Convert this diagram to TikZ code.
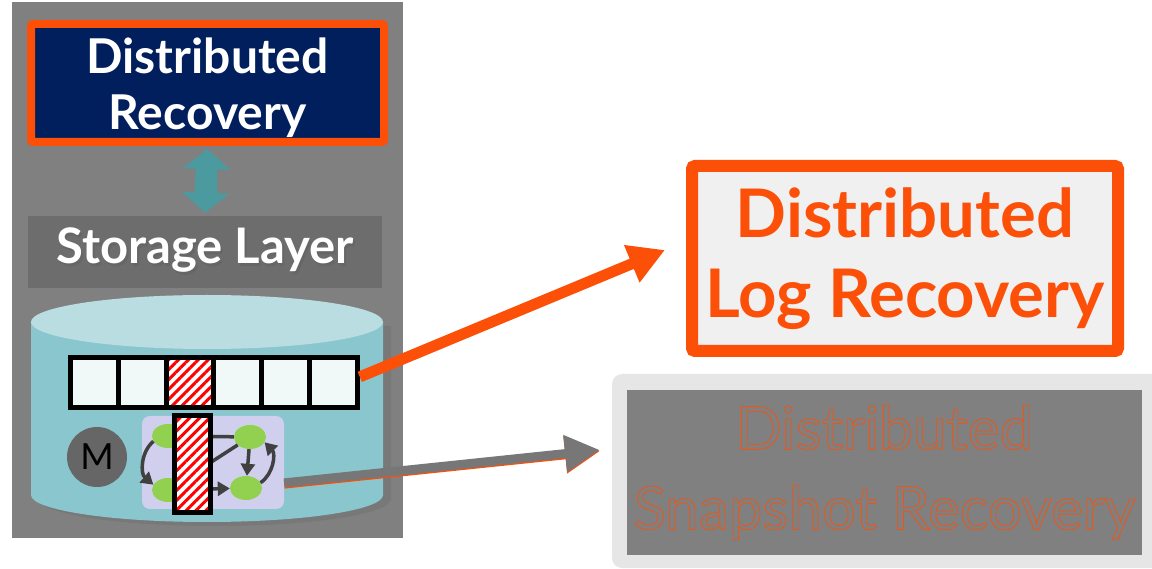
\documentclass[tikz,border=0pt]{standalone}
\usepackage{fontspec}
\setmainfont{Lato}
\usetikzlibrary{arrows.meta,patterns.meta,shapes.geometric}

\definecolor{navy}{RGB}{0,31,92}
\definecolor{hotorange}{RGB}{252,80,8}
\definecolor{tealarrow}{RGB}{74,154,160}
\definecolor{panelgray}{RGB}{128,128,128}
\definecolor{layergray}{RGB}{109,109,109}
\definecolor{cyltop}{RGB}{186,221,225}
\definecolor{cylbody}{RGB}{138,198,206}
\definecolor{cellfill}{RGB}{240,248,248}
\definecolor{lavender}{RGB}{208,208,238}
\definecolor{nodegreen}{RGB}{146,208,80}
\definecolor{edgegray}{RGB}{64,64,64}
\definecolor{mgray}{RGB}{102,102,102}
\definecolor{snapgray}{RGB}{119,119,119}
\definecolor{boxwhite}{RGB}{240,240,240}
\definecolor{framegray}{RGB}{230,230,230}

\newcommand\shadowed[1]{\rlap{\kern2pt\raisebox{-3pt}{\color{black!60}#1}}#1}
\newcommand\hollow[1]{\special{pdf:literal direct 1 Tr 0.7 w}#1\special{pdf:literal direct 0 Tr}}

\begin{document}
\begin{tikzpicture}[x=1pt,y=1pt,node distance=47.8pt,
	recbox/.style={draw=hotorange,line width=8pt,fill=navy,rounded corners=2pt,text=white,align=center,
		minimum width=353pt,minimum height=118pt,font=\bfseries\fontsize{48}{56}\selectfont},
	layer/.style={fill=layergray,text=white,minimum width=354pt,minimum height=72pt,
		font=\bfseries\fontsize{49}{50}\selectfont},
	updown/.style={draw=tealarrow,line width=22pt,{Triangle[width=46pt,length=20pt]}-{Triangle[width=46pt,length=20pt]}},
	cell/.style={draw=black,line width=5pt,fill=cellfill,minimum width=47.8pt,minimum height=50pt,inner sep=0pt},
	hatch/.style={preaction={fill=white},pattern={Lines[angle=45,distance=7pt,line width=3pt]},pattern color=red},
	vertex/.style={ellipse,fill=nodegreen,minimum width=32pt,minimum height=24pt,inner sep=0pt},
	link/.style={draw=edgegray,line width=3.5pt},
	tip/.style={-{Triangle[width=14pt,length=12pt]}},
	logarrow/.style={draw=hotorange,line width=11pt,-{Triangle[width=38pt,length=36pt]}},
	snaparrow/.style={draw=snapgray,line width=9pt,-{Triangle[width=35pt,length=35pt]},
		preaction={draw=hotorange,line width=9pt,transform canvas={yshift=-1.2pt}}},
	logbox/.style={draw=hotorange,line width=12pt,fill=boxwhite,rounded corners=3pt,text=hotorange,align=center,
		minimum width=426pt,minimum height=185pt,font=\bfseries\fontsize{67}{80}\selectfont},
	snapbox/.style={fill=panelgray,text=hotorange,align=center,minimum width=515pt,minimum height=165pt,
		font=\fontsize{60}{80}\selectfont}]

	\useasboundingbox (0,0) rectangle (1152,568);

	\fill[panelgray] (12,30) rectangle (403,566);

	\node[recbox] (recovery) at (207.5,485) {\rule{0pt}{46pt}Distributed\\Recovery};
	\node[layer] (storage) at (205,316) {\shadowed{Storage Layer}};
	\draw[updown,shorten <=3pt,shorten >=3pt] (recovery.south) -- (storage.north);

	\fill[black!55,opacity=.6] (39,242) -- (39,69) arc[start angle=180,end angle=360,x radius=176,y radius=27] -- (391,242) -- cycle;
	\fill[cylbody] (31,246) -- (31,73) arc[start angle=180,end angle=360,x radius=176,y radius=27] -- (383,246) -- cycle;
	\fill[cyltop] (207,246) ellipse[x radius=176,y radius=27];

	\node[cell] (c1) at (94.4,185.5) {};
	\node[cell] (c2) [right of=c1] {};
	\node[cell,hatch] (c3) [right of=c2] {};
	\node[cell] (c4) [right of=c3] {};
	\node[cell] (c5) [right of=c4] {};
	\node[cell] (c6) [right of=c5] {};

	\node[circle,fill=mgray,minimum size=60pt,font=\fontsize{36}{36}\selectfont] (meta) at (97,111) {M};

	\node[fill=lavender,rounded corners=8pt,minimum width=142pt,minimum height=93pt] (graph) at (213,105.5) {};
	\node[vertex] (v1) at (168,132) {};
	\node[vertex] (v2) at (250,131) {};
	\node[vertex] (v3) at (168,78) {};
	\node[vertex] (v4) at (246,80) {};

	\draw[link] (v1) -- (v2);
	\draw[link] (v3) -- (v2);
	\draw[link,tip] (v2) -- (v4);
	\draw[link,tip] (v3) -- (v4);
	\draw[link,tip] (v1.200) to[bend right=50] (v3.160);
	\draw[link,tip] (v4.20) to[bend right=50] (v2.-20);

	\node[cell,hatch,minimum width=36pt,minimum height=97pt] (bar) at (192.5,104) {};

	\coordinate (logtip) at (665,318);
	\coordinate (snaptip) at (600,118);
	\draw[logarrow] (c6.12) -- (logtip);
	\draw[snaparrow] (graph.-16) -- (snaptip);

	\node[logbox] (log) at (905,309.5) {Distributed\\Log Recovery};

	\fill[framegray,rounded corners=10pt] (612,0) rectangle (1170,194);
	\node[snapbox] (snap) at (884.5,95.5) {\hollow{Distributed}\\\hollow{Snapshot Recovery}};

\end{tikzpicture}
\end{document}
